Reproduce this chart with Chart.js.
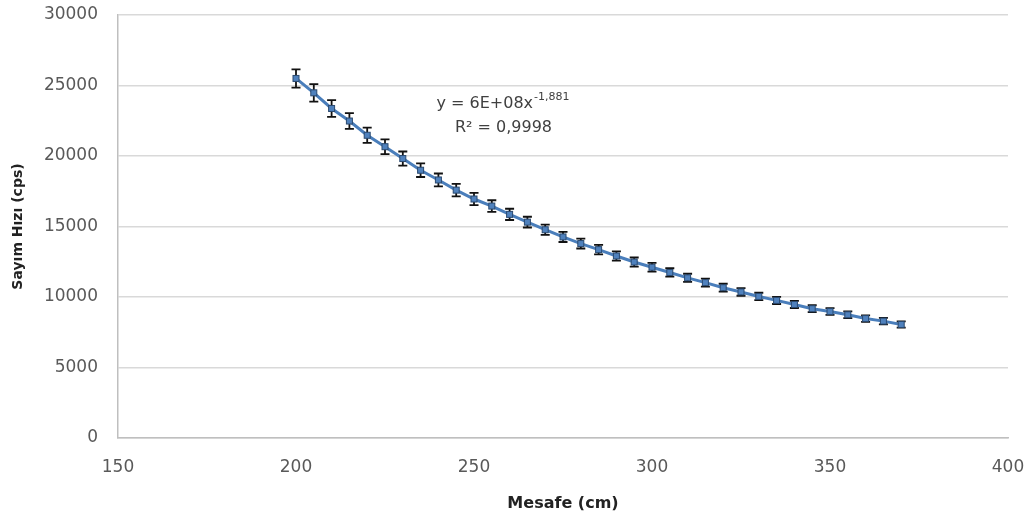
<!DOCTYPE html>
<html>
<head>
<meta charset="utf-8">
<script src="https://cdn.jsdelivr.net/npm/chart.js@4"></script>
<style>
  html, body { margin: 0; padding: 0; background: #ffffff; }
  #wrap { width: 1031px; height: 517px; }
</style>
</head>
<body>
<div id="wrap"><canvas id="chart" width="1031" height="517"></canvas></div>
<script>
// distances (cm)
var mesafe = [200, 205, 210, 215, 220, 225, 230, 235, 240, 245,
              250, 255, 260, 265, 270, 275, 280, 285, 290, 295,
              300, 305, 310, 315, 320, 325, 330, 335, 340, 345,
              350, 355, 360, 365, 370];
// count rates (cps)
var sayim = [25500, 24480, 23370, 22480, 21470, 20660, 19820, 18990, 18300, 17580,
             16950, 16450, 15860, 15310, 14770, 14260, 13790, 13360, 12910, 12480,
             12110, 11740, 11360, 11020, 10660, 10360, 10040, 9760, 9470, 9170,
             8970, 8740, 8470, 8290, 8050];
// error (+/-)
var hata = [650, 620, 590, 560, 540, 520, 500, 480, 460, 440,
            430, 410, 400, 380, 370, 360, 350, 340, 330, 320,
            310, 300, 290, 285, 280, 270, 260, 255, 250, 245,
            240, 235, 230, 225, 220];
var xTicks = [150, 200, 250, 300, 350, 400];
var yTicks = [0, 5000, 10000, 15000, 20000, 25000, 30000];
var denklem = "y = 6E+08x";
var us = "-1,881";
var r2 = "R\u00B2 = 0,9998";

var points = [];
for (var i = 0; i < mesafe.length; i++) {
  points.push({x: mesafe[i], y: sayim[i]});
}

var FONT = "'DejaVu Sans', sans-serif";

var errorBars = {
  id: 'errorBars',
  afterDatasetsDraw: function(chart) {
    var ctx = chart.ctx;
    var xs = chart.scales.x, ys = chart.scales.y;
    ctx.save();
    ctx.strokeStyle = '#111111';
    ctx.lineWidth = 1.8;
    for (var i = 0; i < mesafe.length; i++) {
      var px = xs.getPixelForValue(mesafe[i]);
      var top = ys.getPixelForValue(sayim[i] + hata[i]);
      var bot = ys.getPixelForValue(sayim[i] - hata[i]);
      ctx.beginPath();
      ctx.moveTo(px, top); ctx.lineTo(px, bot);
      ctx.moveTo(px - 4.5, top); ctx.lineTo(px + 4.5, top);
      ctx.moveTo(px - 4.5, bot); ctx.lineTo(px + 4.5, bot);
      ctx.stroke();
    }
    // markers on top of the bars
    ctx.fillStyle = '#4f81bd';
    ctx.strokeStyle = '#2b4a70';
    ctx.lineWidth = 1;
    for (var j = 0; j < mesafe.length; j++) {
      var mx = xs.getPixelForValue(mesafe[j]);
      var my = ys.getPixelForValue(sayim[j]);
      ctx.fillRect(mx - 3, my - 3, 6, 6);
      ctx.strokeRect(mx - 3, my - 3, 6, 6);
    }
    ctx.restore();
  },
  afterDraw: function(chart) {
    var ctx = chart.ctx;
    var a = chart.chartArea;
    var cx = a.left + (a.right - a.left) * 0.432;
    ctx.save();
    ctx.fillStyle = '#404040';
    ctx.textBaseline = 'middle';
    ctx.font = "16px " + FONT;
    var w1 = ctx.measureText(denklem).width;
    ctx.font = "11px " + FONT;
    var w2 = ctx.measureText(us).width;
    var sx = cx - (w1 + w2) / 2;
    ctx.font = "16px " + FONT;
    ctx.textAlign = 'left';
    ctx.fillText(denklem, sx, 104);
    ctx.font = "11px " + FONT;
    ctx.fillText(us, sx + w1 + 1, 97);
    ctx.font = "16px " + FONT;
    ctx.textAlign = 'center';
    ctx.fillText(r2, cx + 1, 128);
    ctx.restore();
  }
};

function plain(v) { return String(v); }

var ctx = document.getElementById('chart');
var chart = new Chart(ctx, {
  type: 'scatter',
  data: {
    datasets: [{
      data: points,
      showLine: true,
      borderColor: '#4a7ebb',
      borderWidth: 3,
      pointRadius: 0,
      fill: false,
      tension: 0
    }]
  },
  options: {
    responsive: false,
    animation: false,
    layout: { padding: { top: 15, right: 23, left: 0, bottom: 0 } },
    plugins: { legend: { display: false }, tooltip: { enabled: false } },
    scales: {
      x: {
        type: 'linear',
        min: 150, max: 400,
        afterBuildTicks: function(s) { s.ticks = xTicks.map(function(v) { return {value: v}; }); },
        afterFit: function(s) { s.height = 79; s.paddingLeft = 0; s.paddingRight = 0; },
        grid: { display: false, drawTicks: false },
        border: { display: true, color: '#bfbfbf', width: 1.5 },
        ticks: { color: '#595959', font: { family: FONT, size: 17 }, padding: 19, maxRotation: 0, callback: plain },
        title: { display: true, text: 'Mesafe (cm)', color: '#222222',
                 font: { family: FONT, size: 16, weight: 'bold' }, padding: { top: 6 } }
      },
      y: {
        type: 'linear',
        min: 0, max: 30000,
        afterBuildTicks: function(s) { s.ticks = yTicks.map(function(v) { return {value: v}; }); },
        afterFit: function(s) { s.width = 118; s.paddingTop = 0; s.paddingBottom = 0; },
        grid: { color: '#d9d9d9', lineWidth: 1.5, drawTicks: false },
        border: { display: true, color: '#bfbfbf', width: 1.5 },
        ticks: { color: '#595959', font: { family: FONT, size: 17 }, padding: 20, callback: plain },
        title: { display: true, text: 'Sayım Hızı (cps)', color: '#222222',
                 font: { family: FONT, size: 14, weight: 'bold' }, padding: { top: 10, bottom: 4 } }
      }
    }
  },
  plugins: [errorBars]
});
</script>
</body>
</html>
